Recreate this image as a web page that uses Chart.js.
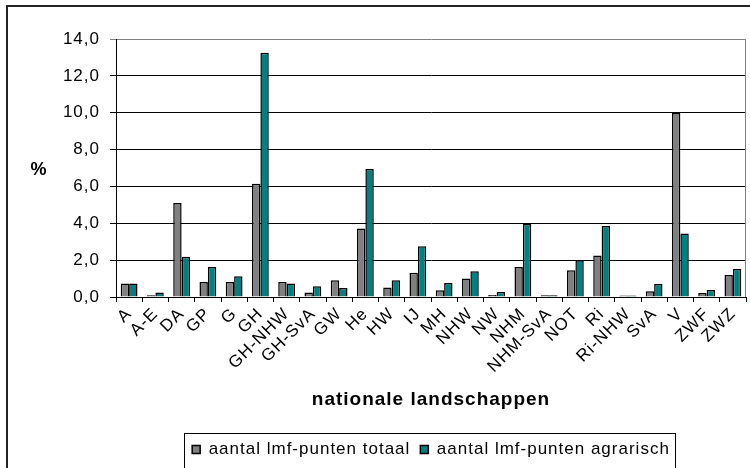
<!DOCTYPE html>
<html lang="nl">
<head>
    <meta charset="UTF-8">
    <title>Lmf-punten per nationaal landschap</title>
    <script src="https://cdn.jsdelivr.net/npm/chart.js"></script>
    <style>
        html, body { margin: 0; padding: 0; background: #fff; }
        #wrap { width: 750px; height: 468px; position: relative; }
    </style>
</head>
<body>
    <div id="wrap">
        <canvas id="lmfChart" width="750" height="468"></canvas>
    </div>

    <script>
        const categories = ['A', 'A-E', 'DA', 'GP', 'G', 'GH', 'GH-NHW', 'GH-SvA', 'GW', 'He', 'HW', 'IJ',
            'MH', 'NHW', 'NW', 'NHM', 'NHM-SvA', 'NOT', 'Ri', 'Ri-NHW', 'SvA', 'V', 'ZWF', 'ZWZ'];
        const totaal = [0.73, 0.09, 5.1, 0.82, 0.82, 6.15, 0.82, 0.24, 0.91, 3.72, 0.51, 1.32,
            0.36, 1.0, 0.11, 1.63, 0.09, 1.45, 2.25, 0.08, 0.31, 9.98, 0.22, 1.2];
        const agrarisch = [0.73, 0.25, 2.18, 1.63, 1.13, 13.25, 0.73, 0.58, 0.49, 6.95, 0.91, 2.76,
            0.76, 1.4, 0.27, 3.96, 0.09, 2.0, 3.85, 0.08, 0.71, 3.45, 0.38, 1.52];
        const yTicks = [0, 2, 4, 6, 8, 10, 12, 14];

        const FONT = "'Liberation Sans', Arial, sans-serif";

        // excel-like wide text, outer frame, plot border, legend box and the "%" label
        const excelLook = {
            id: 'excelLook',
            beforeUpdate(chart) { chart.ctx.letterSpacing = '1px'; },
            beforeDraw(chart) {
                const ctx = chart.ctx;
                ctx.letterSpacing = '1px';
                ctx.save();
                ctx.strokeStyle = '#222';
                ctx.lineWidth = 2;
                ctx.strokeRect(7, 6, 900, 600);
                ctx.restore();
            },
            afterDraw(chart) {
                const ctx = chart.ctx;
                const a = chart.chartArea;
                ctx.save();
                ctx.strokeStyle = '#808080';
                ctx.lineWidth = 1;
                ctx.beginPath();
                ctx.moveTo(Math.round(a.right) - 0.5, a.top);
                ctx.lineTo(Math.round(a.right) - 0.5, a.bottom);
                ctx.stroke();

                const boxes = chart.legend.legendHitBoxes;
                if (boxes && boxes.length) {
                    const first = boxes[0];
                    const last = boxes[boxes.length - 1];
                    const cy = first.top + first.height / 2;
                    ctx.strokeStyle = '#000';
                    ctx.strokeRect(Math.round(first.left - 8) + 0.5, Math.round(cy - 17) + 0.5,
                        Math.round(last.left + last.width - first.left + 13), 35);
                }

                ctx.fillStyle = '#000';
                ctx.font = 'bold 18px ' + FONT;
                ctx.textAlign = 'center';
                ctx.textBaseline = 'middle';
                ctx.fillText('%', 39, (a.top + a.bottom) / 2 + 2);
                ctx.restore();
            }
        };

        new Chart(document.getElementById('lmfChart'), {
            type: 'bar',
            data: {
                labels: categories,
                datasets: [{
                    label: 'aantal lmf-punten totaal',
                    data: totaal,
                    backgroundColor: '#808080',
                    borderColor: '#000',
                    borderWidth: 1.5
                }, {
                    label: 'aantal lmf-punten agrarisch',
                    data: agrarisch,
                    backgroundColor: '#008080',
                    borderColor: '#000',
                    borderWidth: 1.5
                }]
            },
            options: {
                responsive: false,
                animation: false,
                categoryPercentage: 0.64,
                barPercentage: 1.0,
                layout: { padding: { top: 39, right: 4, left: 0, bottom: 0 } },
                plugins: {
                    tooltip: { enabled: false },
                    legend: {
                        position: 'bottom',
                        fullSize: false,
                        labels: {
                            boxWidth: 8,
                            boxHeight: 8,
                            padding: 10,
                            color: '#000',
                            font: { family: FONT, size: 17 }
                        }
                    }
                },
                scales: {
                    x: {
                        afterFit(scale) { scale.height = 134; },
                        grid: { drawOnChartArea: false, tickLength: 5, color: '#000' },
                        border: { color: '#000', width: 1 },
                        ticks: {
                            autoSkip: false,
                            minRotation: 45,
                            maxRotation: 45,
                            padding: 2,
                            color: '#000',
                            font: { family: FONT, size: 17 }
                        },
                        title: {
                            display: true,
                            text: 'nationale landschappen',
                            color: '#000',
                            padding: { top: 0, bottom: 20 },
                            font: { family: FONT, size: 19, weight: 'bold' }
                        }
                    },
                    y: {
                        min: 0,
                        max: 14,
                        afterFit(scale) { scale.width = 116; },
                        afterBuildTicks(scale) { scale.ticks = yTicks.map(v => ({ value: v })); },
                        grid: {
                            tickLength: 6,
                            color: ctx => ctx.tick && ctx.tick.value === 14 ? '#808080' : '#000'
                        },
                        border: { color: '#000', width: 1 },
                        ticks: {
                            padding: 10,
                            color: '#000',
                            font: { family: FONT, size: 17 },
                            callback: v => v.toFixed(1).replace('.', ',')
                        }
                    }
                }
            },
            plugins: [excelLook]
        });
    </script>
</body>
</html>
